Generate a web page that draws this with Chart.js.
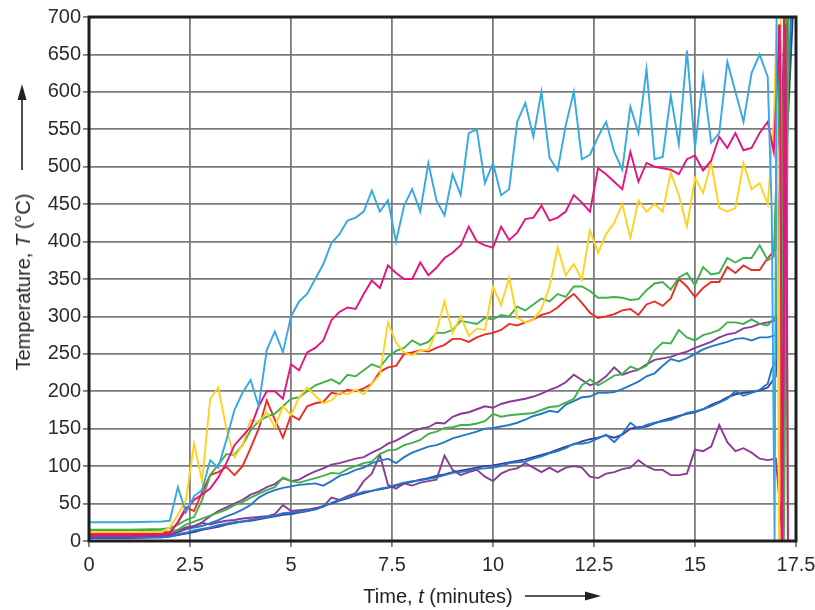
<!DOCTYPE html>
<html>
<head>
<meta charset="utf-8">
<script src="https://cdn.jsdelivr.net/npm/chart.js@4.4.0/dist/chart.umd.min.js"></script>
<style>
  body { margin: 0; background: #fff; }
  #wrap { position: relative; width: 815px; height: 610px; font-family: "Liberation Sans", Arial, sans-serif; color: #222; }
  #chart { position: absolute; left: 0; top: 0; }
  .ttl { position: absolute; font-size: 20px; white-space: nowrap; line-height: 1; }
  #ytitle { left: 23px; top: 282px; transform: translate(-50%, -50%) rotate(-90deg); }
  #xtitle { left: 438px; top: 596px; transform: translate(-50%, -50%); }
  svg.arrow { position: absolute; left: 0; top: 0; }
</style>
</head>
<body>
<div id="wrap">
  <canvas id="chart" width="815" height="610"></canvas>
  <div class="ttl" id="ytitle">Temperature, <i>T</i> (°C)</div>
  <div class="ttl" id="xtitle">Time, <i>t</i> (minutes)</div>
  <svg class="arrow" width="815" height="610">
    <line x1="22" y1="170" x2="22" y2="98" stroke="#222" stroke-width="1.6"/>
    <polygon points="22,84 17.5,100 26.5,100" fill="#222"/>
    <line x1="525" y1="596" x2="586" y2="596" stroke="#222" stroke-width="1.6"/>
    <polygon points="601,596 585,591.5 585,600.5" fill="#222"/>
  </svg>
</div>
<script>
// --- time grid (minutes) ---
const times = [0, 1, 1.8, 2,
  2.2, 2.4, 2.6, 2.8, 3, 3.2, 3.4, 3.6, 3.8, 4, 4.2, 4.4, 4.6, 4.8, 5,
  5.2, 5.4, 5.6, 5.8, 6, 6.2, 6.4, 6.6, 6.8, 7, 7.2, 7.4, 7.6, 7.8, 8,
  8.2, 8.4, 8.6, 8.8, 9, 9.2, 9.4, 9.6, 9.8, 10, 10.2, 10.4, 10.6, 10.8, 11,
  11.2, 11.4, 11.6, 11.8, 12, 12.2, 12.4, 12.6, 12.8, 13, 13.2, 13.4, 13.6, 13.8, 14,
  14.2, 14.4, 14.6, 14.8, 15, 15.2, 15.4, 15.6, 15.8, 16, 16.2, 16.4, 16.6, 16.8];

// --- temperatures (°C) per thermocouple ---
const cyan = [25, 25, 26, 27,
  72, 38, 60, 68, 108,   98, 135, 175, 198, 215,   180, 255, 280, 252, 300,
  320, 330, 350, 370, 398,   410, 428, 432, 440, 468,   440, 455, 400, 448, 470,
  440, 505, 455, 435, 490,   462, 545, 550, 478, 505,   462, 470, 560, 585, 540,
  600, 512, 495, 555, 600,   510, 516, 540, 560, 520,   496, 580, 545, 630, 510,
  513, 595, 530, 655, 525,   620, 532, 545, 640, 600,   560, 625, 650, 620];
const magenta = [8, 8, 9, 10,
  25, 42, 55, 62, 70,   85, 104, 128, 140, 152,   180, 200, 200, 190, 236,
  228, 252, 258, 268, 295,   306, 312, 310, 330, 348,   338, 368, 358, 350, 350,
  372, 355, 365, 378, 385,   395, 420, 400, 395, 392,   420, 402, 412, 430, 432,
  448, 428, 432, 440, 462,   452, 440, 498, 490, 480,   470, 520, 480, 505, 500,
  498, 496, 490, 510, 515,   495, 508, 540, 525, 545,   522, 525, 545, 560];
const yellow = [12, 12, 12, 18,
  35, 55, 130, 80, 190,   205, 150, 112, 128, 162,   158, 172, 152, 180, 168,
  192, 205, 194, 184, 188,   198, 196, 202, 196, 210,   222, 292, 265, 252, 248,
  255, 255, 280, 320, 278,   300, 274, 284, 282, 340,   315, 352, 298, 292, 296,
  310, 340, 392, 355, 370,   349, 415, 385, 410, 425,   450, 405, 455, 440, 450,
  440, 492, 462, 420, 485,   465, 505, 445, 440, 445,   505, 470, 478, 450];
const greenUpper = [15, 15, 16, 17,
  22, 28, 32, 55, 88,   102, 116, 115, 128, 148,   160, 166, 170, 180, 190,
  192, 200, 208, 212, 216,   210, 222, 220, 228, 236,   232, 246, 254, 258, 268,
  262, 266, 278, 278, 282,   294, 292, 290, 298, 296,   302, 300, 313, 308, 316,
  324, 320, 330, 326, 340,   340, 334, 325, 325, 326,   325, 322, 323, 335, 344,
  346, 336, 352, 358, 342,   366, 356, 358, 378, 372,   378, 378, 395, 375];
const red = [10, 10, 10, 12,
  25, 45, 40, 65, 88,   92, 99, 88, 100, 124,   150, 188, 162, 138, 168,
  162, 180, 184, 186, 198,   196, 202, 200, 204, 210,   226, 232, 234, 250, 252,
  255, 253, 258, 262, 270,   270, 266, 272, 276, 278,   282, 290, 288, 292, 296,
  302, 305, 312, 322, 330,   318, 305, 298, 300, 303,   308, 310, 302, 316, 320,
  314, 324, 350, 340, 326,   338, 346, 346, 366, 358,   368, 362, 362, 378];
const greenLower = [14, 14, 13, 12,
  15, 22, 26, 30, 34,   38, 42, 48, 52, 58,   63, 68, 72, 85, 80,
  78, 81, 84, 87, 91,   90, 96, 100, 104, 106,   116, 121, 122, 128, 131,
  135, 143, 146, 151, 152,   155, 155, 157, 160, 170,   166, 168, 169, 170, 171,
  175, 179, 180, 185, 190,   208, 216, 208, 214, 221,   223, 233, 229, 234, 255,
  265, 264, 282, 272, 268,   275, 278, 282, 292, 292,   290, 296, 290, 288];
const purpleUpper = [6, 6, 7, 8,
  12, 16, 20, 25, 33,   40, 45, 50, 55, 62,   66, 72, 76, 84, 80,
  82, 88, 93, 97, 102,   104, 107, 110, 112, 118,   123, 130, 134, 140, 146,
  150, 152, 158, 157, 166,   170, 172, 176, 180, 178,   183, 186, 188, 190, 193,
  197, 202, 206, 212, 222,   215, 208, 212, 220, 232,   222, 226, 229, 236, 242,
  244, 246, 250, 253, 258,   262, 266, 272, 276, 278,   284, 286, 290, 292];
const blueUpper = [7, 7, 7, 8,
  12, 16, 18, 20, 24,   28, 33, 37, 42, 48,   58, 64, 68, 71, 73,
  75, 76, 77, 74, 80,   87, 90, 95, 98, 104,   107, 110, 104, 112, 118,
  122, 126, 128, 132, 137,   140, 143, 146, 150, 151,   153, 155, 158, 162, 167,
  170, 174, 172, 182, 187,   192, 193, 198, 198, 199,   203, 208, 213, 220, 224,
  234, 243, 240, 244, 250,   256, 260, 263, 266, 270,   271, 268, 272, 272];
const blueLower = [5, 5, 5, 6,
  9, 11, 14, 16, 18,   21, 23, 25, 26, 28,   30, 32, 34, 37, 38,
  39, 40, 42, 46, 51,   55, 58, 62, 66, 67,   70, 72, 75, 78, 80,
  81, 83, 85, 88, 91,   92, 94, 96, 97, 98,   100, 104, 105, 106, 110,
  113, 117, 120, 124, 130,   130, 132, 137, 142, 132,   143, 158, 150, 155, 158,
  160, 162, 166, 171, 173,   176, 180, 185, 190, 200,   194, 198, 202, 210];
const navy = [4, 4, 5, 6,
  8, 10, 12, 15, 17,   19, 22, 24, 26, 27,   29, 31, 33, 35, 36,
  38, 40, 43, 47, 50,   54, 57, 61, 64, 67,   69, 71, 74, 77, 79,
  82, 84, 87, 89, 92,   94, 96, 98, 100, 101,   103, 105, 107, 109, 112,
  115, 118, 122, 126, 129,   133, 136, 138, 141, 138,   142, 150, 152, 153, 157,
  161, 164, 167, 170, 172,   176, 182, 186, 192, 196,   198, 199, 201, 205];
const purpleLower = [6, 6, 6, 8,
  14, 18, 20, 24, 22,   25, 27, 28, 30, 31,   32, 33, 36, 48, 40,
  41, 42, 44, 46, 58,   55, 60, 64, 80, 90,   115, 75, 70, 77, 74,
  78, 80, 82, 114, 95,   88, 92, 95, 86, 80,   90, 95, 97, 104, 98,
  92, 98, 92, 98, 100,   98, 86, 84, 90, 92,   96, 98, 108, 100, 95,
  95, 88, 88, 90, 122,   120, 126, 155, 132, 120,   124, 118, 110, 108];

// readings after ~17 min, when the thermocouples fail: [time, temperature]
const cyanEnd = [[16.9, 440], [16.97, 0], [17.02, 700]];
const yellowEnd = [[16.95, 560], [17.02, 690], [17.08, 0], [17.12, 700]];
const redEnd = [[17.0, 390], [17.08, 690], [17.14, 0], [17.2, 700]];
const magentaEnd = [[16.95, 520], [17.1, 690], [17.16, 0], [17.24, 690], [17.3, 0]];
const greenUpperEnd = [[16.95, 380], [17.12, 670], [17.2, 0], [17.32, 700]];
const greenLowerEnd = [[17.0, 300], [17.26, 700], [17.3, 0]];
const purpleUpperEnd = [[17.0, 295], [17.22, 700]];
const blueUpperEnd = [[17.0, 275], [17.3, 700]];
const blueLowerEnd = [[16.9, 230], [17.0, 240], [17.38, 700]];
const navyEnd = [[17.0, 220], [17.42, 700]];
const purpleLowerEnd = [[17.0, 110], [17.18, 0], [17.28, 700]];

const xTicks = [0, 2.5, 5, 7.5, 10, 12.5, 15, 17.5];

function series(values, ends) {
    return values.map((v, i) => ({ x: times[i], y: v }))
        .concat(ends.map(p => ({ x: p[0], y: p[1] })));
}

function ds(values, ends, color) {
    return {
        data: series(values, ends),
        borderColor: color,
        borderWidth: 1.9,
        pointRadius: 0,
        tension: 0,
        fill: false
    };
}

const frame = {
    id: 'frame',
    afterDatasetsDraw(chart) {
        const a = chart.chartArea, c = chart.ctx;
        c.save();
        c.strokeStyle = '#1e1e1e';
        c.lineWidth = 3;
        c.strokeRect(a.left, a.top, a.right - a.left, a.bottom - a.top);
        c.restore();
    }
};

new Chart(document.getElementById('chart').getContext('2d'), {
    type: 'line',
    data: {
        datasets: [
            ds(cyan, cyanEnd, '#35a9e1'),
            ds(magenta, magentaEnd, '#e5127f'),
            ds(yellow, yellowEnd, '#ffd21f'),
            ds(greenUpper, greenUpperEnd, '#3fb14b'),
            ds(red, redEnd, '#ee2b24'),
            ds(greenLower, greenLowerEnd, '#3fb14b'),
            ds(purpleUpper, purpleUpperEnd, '#8a3b96'),
            ds(blueUpper, blueUpperEnd, '#2379c6'),
            ds(blueLower, blueLowerEnd, '#2379c6'),
            ds(navy, navyEnd, '#3a3f9c'),
            ds(purpleLower, purpleLowerEnd, '#8a3b96')
        ]
    },
    options: {
        responsive: false,
        animation: false,
        devicePixelRatio: 1,
        layout: { padding: { top: 17, right: 19, left: 0, bottom: 0 } },
        plugins: { legend: { display: false }, tooltip: { enabled: false } },
        scales: {
            x: {
                type: 'linear', min: 0, max: 17.5,
                afterFit: s => { s.height = 69; s.paddingLeft = 0; s.paddingRight = 0; },
                afterBuildTicks: s => { s.ticks = xTicks.map(v => ({ value: v })); },
                grid: { color: '#7b7b7b', lineWidth: 1.8, tickLength: 6 },
                border: { display: false },
                ticks: { color: '#2b2b2b', padding: 6, maxRotation: 0, font: { family: 'Liberation Sans', size: 20 },
                         callback: v => String(v) }
            },
            y: {
                min: 0, max: 700,
                afterFit: s => { s.width = 89; s.paddingTop = 0; s.paddingBottom = 0; },
                grid: { color: '#7b7b7b', lineWidth: 1.8, tickLength: 6 },
                border: { display: false },
                ticks: { stepSize: 50, color: '#2b2b2b', padding: 2, font: { family: 'Liberation Sans', size: 20 } }
            }
        }
    },
    plugins: [frame]
});
</script>
</body>
</html>
